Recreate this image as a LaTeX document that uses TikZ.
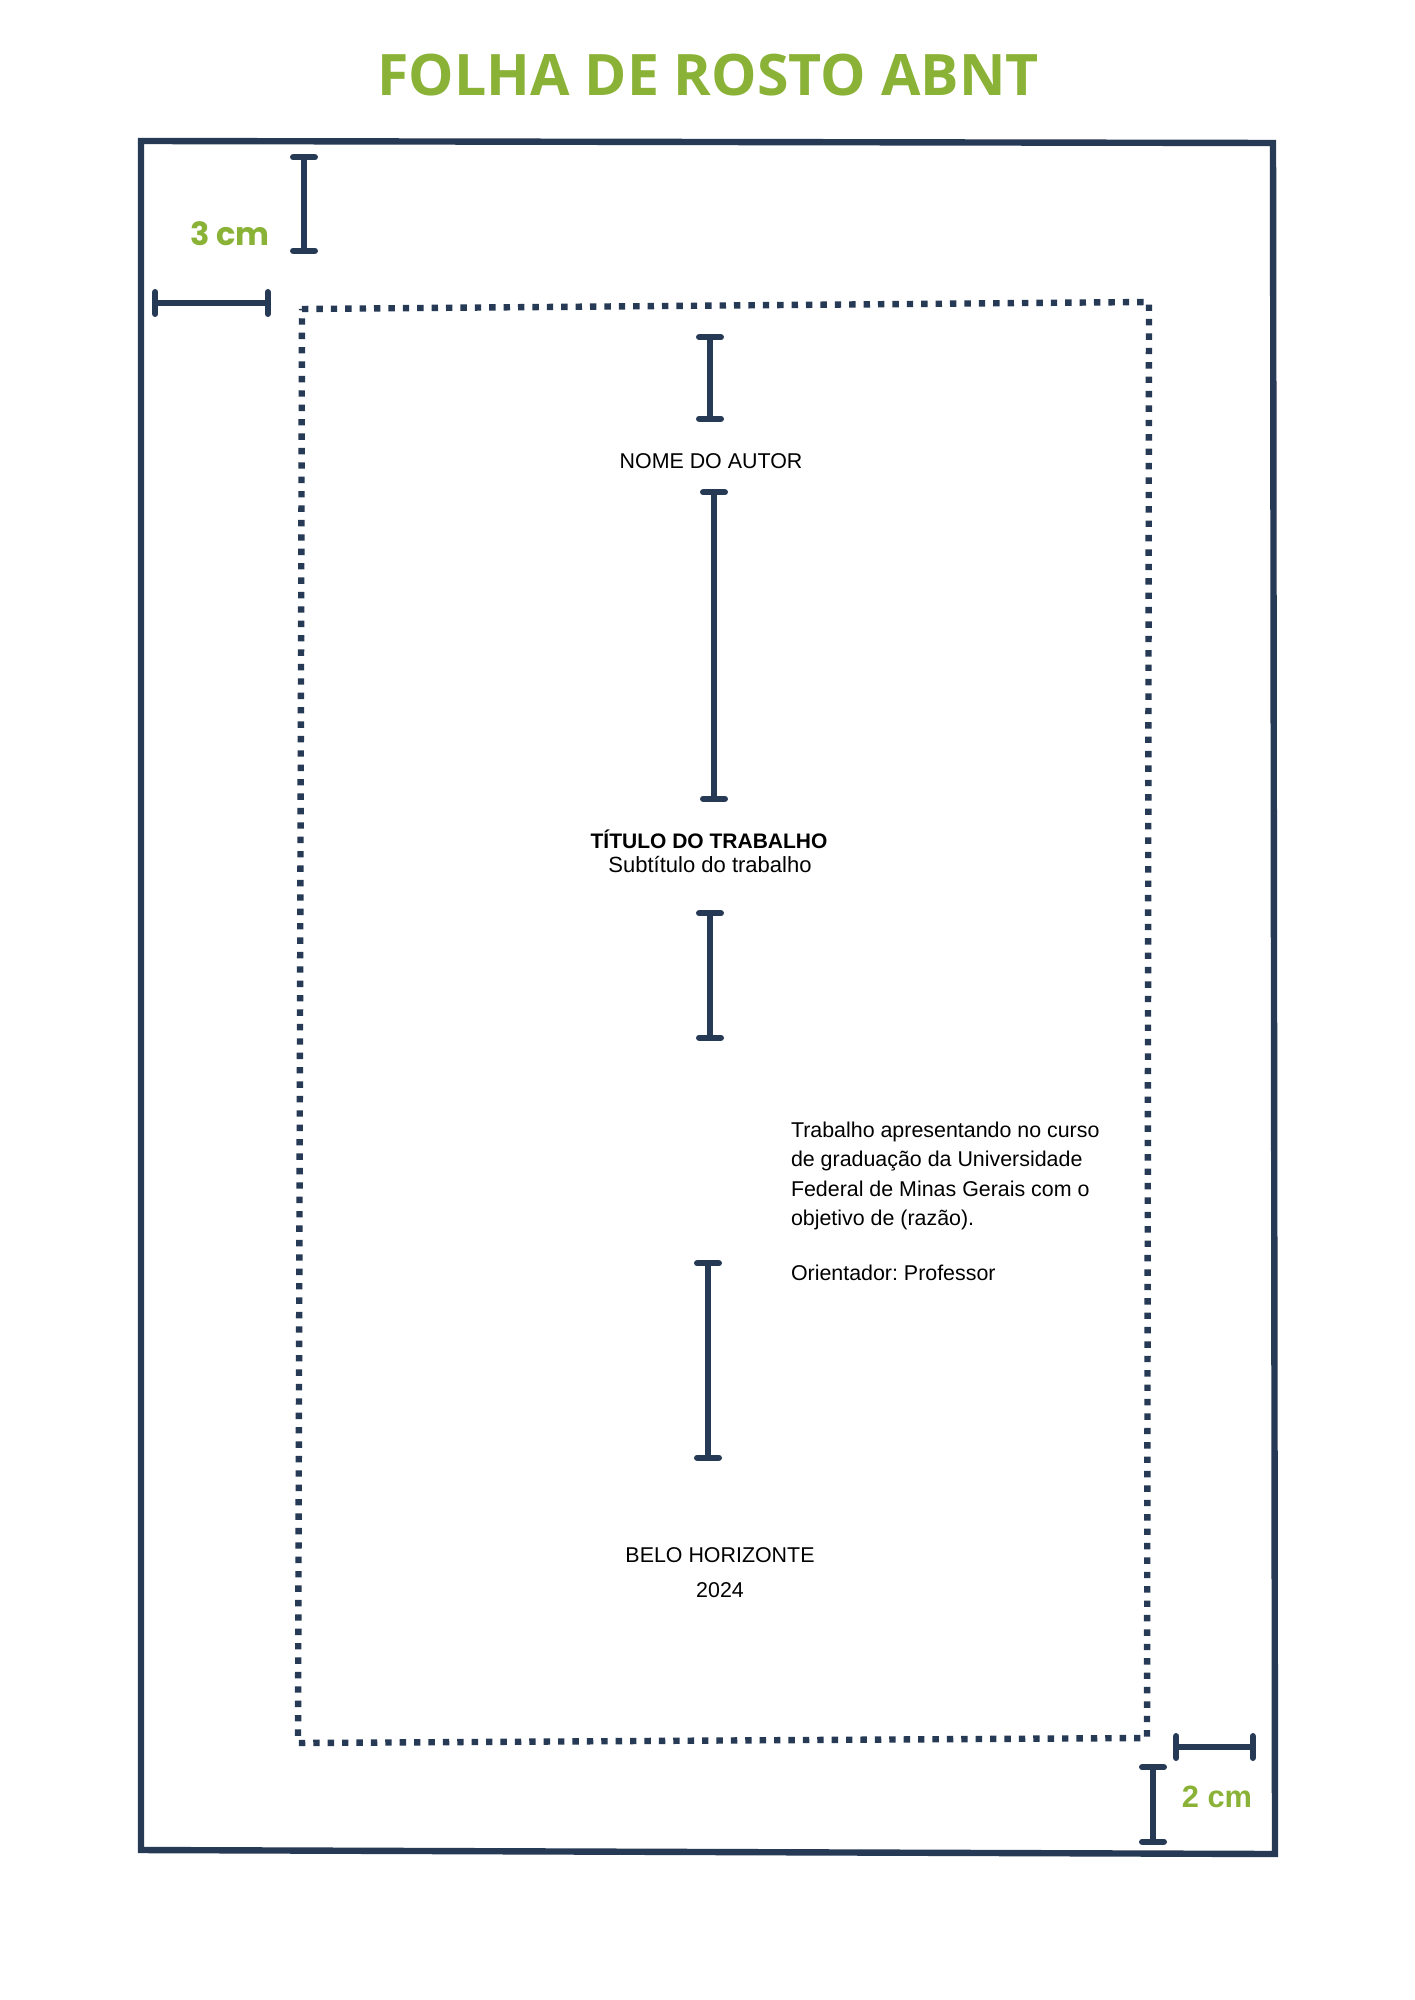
\documentclass[tikz,border=0pt]{standalone}
\usepackage{fontspec}
\setmainfont{Liberation Sans}
\newfontfamily\headfont{Open Sans}
\newfontfamily\poppins{Poppins}
\usepackage{tikz}
\usetikzlibrary{arrows.meta}
\usetikzlibrary{positioning}
\definecolor{navy}{HTML}{263A55}
\definecolor{leaf}{HTML}{8AB236}
\frenchspacing
\tikzset{x=0.5pt, y=-0.5pt, inner sep=0pt, outer sep=0pt, node distance=1cm, font=\fontsize{10.7}{11.75}\selectfont}
\tikzstyle{page} = [draw=navy, line width=3.2pt, line join=miter]
\tikzstyle{margin} = [draw=navy, line width=3.2pt, dash pattern=on 3.2pt off 4pt]
\tikzstyle{spacer} = [draw=navy, line width=3.2pt, line cap=round, shorten <=-2pt, shorten >=-2pt, {Bar[width=10.8pt,round]}-{Bar[width=10.8pt,round]}]
\tikzstyle{txt} = [anchor=base, align=center]
\tikzstyle{measure} = [text=leaf, anchor=base]

\begin{document}
\begin{tikzpicture}
		\useasboundingbox [fill=white] (0,0) rectangle (1414,2000);

		\node [measure, font=\headfont\bfseries\fontsize{28.6}{28.6}\selectfont] (cabecalho) at (708,96) {FOLHA DE ROSTO ABNT};

		\coordinate (folha_nw) at (141,141);
		\coordinate (folha_ne) at (1273,143);
		\coordinate (folha_se) at (1275,1854);
		\coordinate (folha_sw) at (141,1850);
		\draw [page] (folha_nw) -- (folha_ne) -- (folha_se) -- (folha_sw) -- cycle;

		\coordinate (texto_nw) at (302,309);
		\coordinate (texto_ne) at (1149,302);
		\coordinate (texto_se) at (1147,1738);
		\coordinate (texto_sw) at (298,1743);
		\draw [margin] (texto_nw) -- (texto_ne) -- (texto_se) -- (texto_sw) -- cycle;

		\node [measure, font=\poppins\bfseries\fontsize{16}{16}\selectfont] (tres_cm) at (230,246) {3 cm};
		\node [measure, font=\bfseries\fontsize{15.4}{15.4}\selectfont] (dois_cm) at (1217,1807) {2 cm};

		\node [txt] (autor) at (711,468) {NOME DO AUTOR};
		\node [txt, font=\bfseries\fontsize{10.5}{12}\selectfont] (titulo) at (709,848) {TÍTULO DO TRABALHO};
		\node [txt, font=\fontsize{11}{12}\selectfont] (subtitulo) at (710,872) {Subtítulo do trabalho};
		\node [anchor=north west, align=left, font=\fontsize{10.7}{14.7}\selectfont] (natureza) at (791,1122) {Trabalho apresentando no curso\\de graduação da Universidade\\Federal de Minas Gerais com o\\objetivo de (razão).};
		\node [anchor=base west] (orientador) at (791,1280) {Orientador: Professor};
		\node [txt] (cidade) at (720,1562) {BELO HORIZONTE};
		\node [txt] (ano) at (720,1597) {2024};

		\coordinate (sup_a) at (304,158);
		\coordinate (sup_b) at (304,250);
		\coordinate (esq_a) at (156,303);
		\coordinate (esq_b) at (267,303);
		\coordinate (autor_a) at (710,338);
		\coordinate (autor_b) at (710,418);
		\coordinate (titulo_a) at (714,493);
		\coordinate (titulo_b) at (714,798);
		\coordinate (natureza_a) at (710,914);
		\coordinate (natureza_b) at (710,1037);
		\coordinate (cidade_a) at (708,1264);
		\coordinate (cidade_b) at (708,1457);
		\coordinate (dir_a) at (1177,1747);
		\coordinate (dir_b) at (1252,1747);
		\coordinate (inf_a) at (1153,1768);
		\coordinate (inf_b) at (1153,1841);

		\draw [spacer] (sup_a) -- (sup_b);
		\draw [spacer] (esq_a) -- (esq_b);
		\draw [spacer] (autor_a) -- (autor_b);
		\draw [spacer] (titulo_a) -- (titulo_b);
		\draw [spacer] (natureza_a) -- (natureza_b);
		\draw [spacer] (cidade_a) -- (cidade_b);
		\draw [spacer] (dir_a) -- (dir_b);
		\draw [spacer] (inf_a) -- (inf_b);
	\end{tikzpicture}
\end{document}
